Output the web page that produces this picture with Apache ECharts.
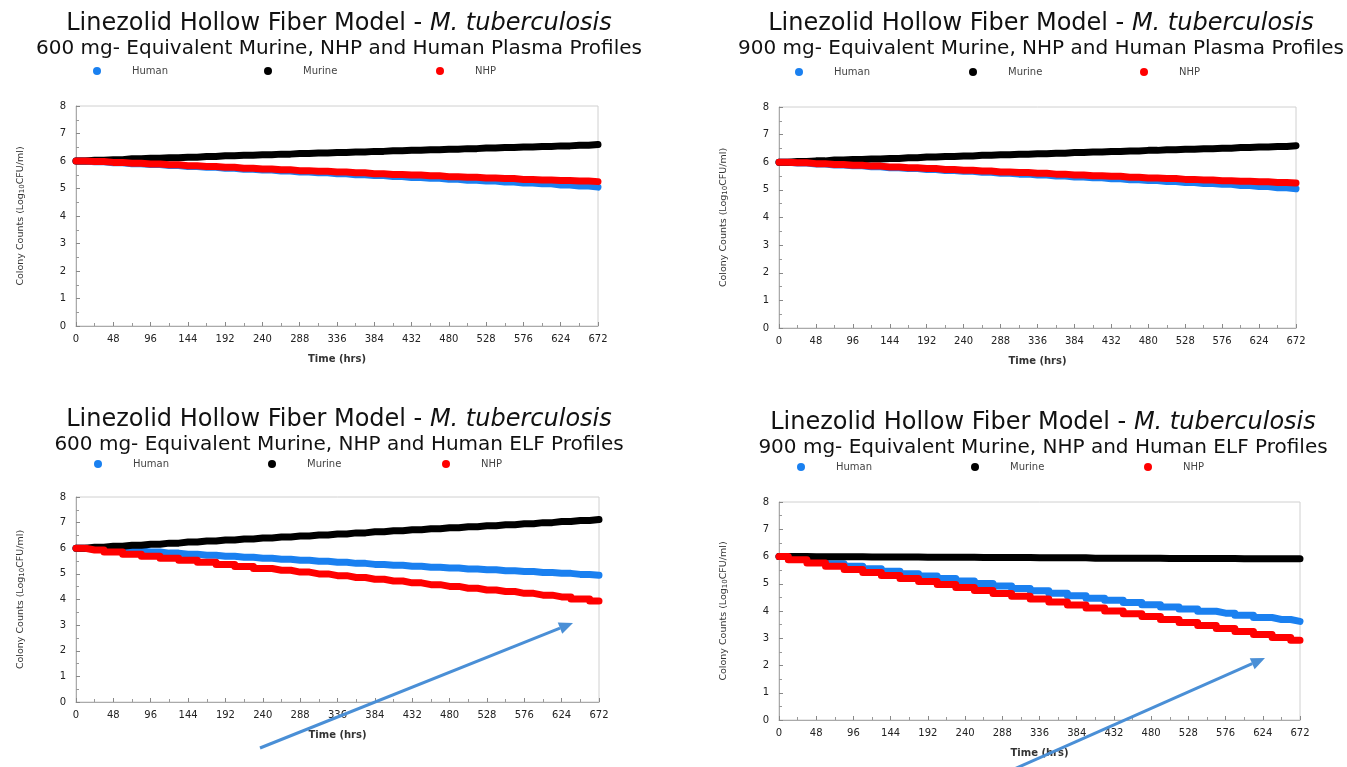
<!DOCTYPE html>
<html>
<head>
<meta charset="utf-8">
<script src="https://cdn.jsdelivr.net/npm/echarts@6/dist/echarts.min.js"></script>
<style>html,body{margin:0;padding:0;background:#fff;}#c{width:1347px;height:767px;}</style>
</head>
<body>
<div id="c"></div>
<script>
// Time axis (hours), one reading per day
const hours = [0,24,48,72,96,120,144,168,192,216,240,264,288,312,336,360,384,408,432,456,480,504,528,552,576,600,624,648,672];
const xTickLabels = [0,48,96,144,192,240,288,336,384,432,480,528,576,624,672];
const yTickLabels = [0,1,2,3,4,5,6,7,8];

const panelTitles = [
  '600 mg- Equivalent Murine, NHP and Human Plasma Profiles',
  '900 mg- Equivalent Murine, NHP and Human Plasma Profiles',
  '600 mg- Equivalent Murine, NHP and Human ELF Profiles',
  '900 mg- Equivalent Murine, NHP and Human ELF Profiles'
];
const seriesNames = ['Human','Murine','NHP'];

// Panel 1: 600 mg plasma
const plasma600Human  = [6.00,5.97,5.94,5.90,5.87,5.84,5.80,5.77,5.74,5.70,5.67,5.64,5.60,5.57,5.54,5.50,5.47,5.44,5.40,5.37,5.34,5.30,5.27,5.24,5.20,5.17,5.13,5.09,5.05];
const plasma600Murine = [6.00,6.03,6.05,6.08,6.10,6.12,6.14,6.16,6.19,6.21,6.23,6.25,6.27,6.29,6.31,6.33,6.35,6.37,6.39,6.41,6.43,6.45,6.47,6.49,6.51,6.53,6.55,6.57,6.60];
const plasma600NHP    = [6.00,5.98,5.95,5.92,5.89,5.86,5.83,5.80,5.77,5.74,5.71,5.68,5.65,5.63,5.60,5.57,5.54,5.51,5.49,5.46,5.43,5.41,5.38,5.36,5.33,5.31,5.29,5.27,5.25];
// Panel 2: 900 mg plasma
const plasma900Human  = [6.00,5.97,5.94,5.90,5.87,5.84,5.80,5.77,5.74,5.70,5.67,5.64,5.60,5.57,5.54,5.50,5.47,5.44,5.40,5.37,5.34,5.30,5.27,5.23,5.20,5.16,5.12,5.08,5.04];
const plasma900Murine = [6.00,6.03,6.05,6.08,6.10,6.12,6.14,6.16,6.19,6.21,6.23,6.25,6.27,6.29,6.31,6.33,6.35,6.37,6.39,6.41,6.43,6.45,6.47,6.49,6.51,6.53,6.55,6.57,6.60];
const plasma900NHP    = [6.00,5.98,5.95,5.92,5.89,5.86,5.83,5.80,5.77,5.74,5.71,5.68,5.65,5.63,5.60,5.57,5.54,5.51,5.49,5.46,5.43,5.41,5.38,5.36,5.33,5.31,5.29,5.27,5.25];
// Panel 3: 600 mg ELF
const elf600Human  = [6.00,5.97,5.93,5.89,5.85,5.81,5.77,5.73,5.69,5.65,5.61,5.57,5.53,5.49,5.45,5.41,5.37,5.34,5.30,5.26,5.23,5.19,5.16,5.12,5.09,5.05,5.02,4.98,4.95];
const elf600Murine = [6.00,6.04,6.08,6.12,6.16,6.20,6.24,6.28,6.32,6.36,6.40,6.44,6.48,6.52,6.56,6.60,6.64,6.68,6.72,6.76,6.80,6.84,6.88,6.92,6.96,7.00,7.04,7.08,7.12];
const elf600NHP    = [6.00,5.93,5.85,5.77,5.69,5.61,5.53,5.45,5.37,5.29,5.21,5.14,5.07,5.00,4.93,4.86,4.79,4.72,4.65,4.58,4.51,4.44,4.37,4.31,4.24,4.17,4.10,4.02,3.94];
// Panel 4: 900 mg ELF
const elf900Human  = [6.00,5.91,5.82,5.73,5.64,5.55,5.46,5.37,5.28,5.19,5.10,5.01,4.92,4.83,4.74,4.65,4.56,4.47,4.39,4.31,4.23,4.15,4.07,3.99,3.92,3.84,3.76,3.69,3.62];
const elf900Murine = [6.00,6.00,5.99,5.99,5.99,5.98,5.98,5.98,5.97,5.97,5.97,5.96,5.96,5.96,5.95,5.95,5.95,5.94,5.94,5.94,5.94,5.93,5.93,5.93,5.93,5.92,5.92,5.92,5.92];
const elf900NHP    = [6.00,5.88,5.76,5.64,5.52,5.41,5.30,5.19,5.08,4.97,4.86,4.75,4.64,4.54,4.44,4.33,4.22,4.11,4.00,3.90,3.80,3.69,3.58,3.47,3.36,3.25,3.14,3.03,2.93];

const panelData = [
  [plasma600Human, plasma600Murine, plasma600NHP],
  [plasma900Human, plasma900Murine, plasma900NHP],
  [elf600Human, elf600Murine, elf600NHP],
  [elf900Human, elf900Murine, elf900NHP]
];
const colors = ['#1a80f0','#000000','#ff0000'];

// layout (pixels)
const grids = [
  {left:76, top:106, width:522, height:220},
  {left:779, top:107, width:517, height:221},
  {left:76, top:497, width:523, height:205},
  {left:779, top:502, width:521, height:218}
];
const titleCenters = [[334,7],[1036,7],[334,403],[1038,406]];
// legend dot centres per panel (x of Human, Murine, NHP) and y
const legendDotX = [[97,268,440],[799,973,1144],[98,272,446],[801,975,1148]];
const legendDotY = [72,73,465,468];

const chart = echarts.init(document.getElementById('c'));
const FONT = 'DejaVu Sans';

const option = {
  backgroundColor:'#fff',
  animation:false,
  title:[], legend:[], grid:[], xAxis:[], yAxis:[], series:[], graphic:[]
};

for (let p=0; p<4; p++) {
  const g = grids[p];
  option.title.push({
    text:'Linezolid Hollow Fiber Model - {i|M. tuberculosis}',
    subtext: panelTitles[p],
    left: titleCenters[p][0], top: titleCenters[p][1], textAlign:'center',
    itemGap: 3,
    textStyle:{fontFamily:FONT, fontSize:24, fontWeight:'normal', color:'#111',
      rich:{i:{fontFamily:FONT, fontSize:24, fontStyle:'italic', color:'#111'}}},
    subtextStyle:{fontFamily:FONT, fontSize:20, color:'#111'}
  });
  for (let s=0; s<3; s++) {
    option.legend.push({
      left: legendDotX[p][s] - 4, top: legendDotY[p] - 6,
      data: [seriesNames[s]], icon:'circle', itemWidth:8, itemHeight:8,
      selectedMode:false, padding:0,
      textStyle:{fontFamily:FONT, fontSize:10, color:'#444', padding:[0,0,0,26]}
    });
  }
  option.grid.push({left:g.left, top:g.top, width:g.width, height:g.height, show:true, borderColor:'#d0d0d0', borderWidth:1, containLabel:false});
  option.xAxis.push({
    gridIndex:p, type:'value', min:0, max:672, interval:48,
    name:'Time (hrs)', nameLocation:'middle', nameGap:28,
    nameTextStyle:{fontFamily:FONT, fontSize:10, color:'#333', fontWeight:'bold'},
    axisLine:{lineStyle:{color:'#aaa'}},
    axisTick:{inside:true, length:4, lineStyle:{color:'#888'}},
    minorTick:{show:true, splitNumber:2, length:3, lineStyle:{color:'#999'}},
    splitLine:{show:false},
    axisLabel:{fontFamily:FONT, fontSize:10, color:'#222', margin:8,
      formatter: v => xTickLabels.includes(v) ? String(v) : ''}
  });
  option.yAxis.push({
    gridIndex:p, type:'value', min:0, max:8, interval:1,
    name:'{a|Colony Counts (Log}{s|10}{a|CFU/ml)}', nameLocation:'middle', nameGap:50,
    nameTextStyle:{rich:{a:{fontFamily:FONT, fontSize:9.5, color:'#333'}, s:{fontFamily:FONT, fontSize:7, color:'#333', verticalAlign:'bottom', padding:[4,0,0,0]}}},
    axisLine:{lineStyle:{color:'#aaa'}},
    axisTick:{inside:true, length:4, lineStyle:{color:'#888'}},
    minorTick:{show:true, splitNumber:2, length:3, lineStyle:{color:'#999'}},
    splitLine:{show:false},
    axisLabel:{fontFamily:FONT, fontSize:10, color:'#222', margin:10,
      formatter: v => yTickLabels.includes(v) ? String(v) : ''}
  });
  for (let s=0; s<3; s++) {
    option.series.push({
      name: seriesNames[s], type:'line', xAxisIndex:p, yAxisIndex:p,
      data: hours.map((h,i)=>[h, panelData[p][s][i]]),
      step:'middle', showSymbol:false, symbol:'circle', symbolSize:8,
      itemStyle:{color:colors[s]},
      lineStyle:{color:colors[s], width:7, cap:'round', join:'round'},
      z: s===1 ? 3 : (s===2 ? 4 : 2),
      emphasis:{disabled:true}
    });
  }
}

// blue annotation arrows (bottom panels)
function arrow(x1,y1,x2,y2){
  const ang = Math.atan2(y2-y1, x2-x1);
  const L = 14, W = 6;
  const bx = x2 - L*Math.cos(ang), by = y2 - L*Math.sin(ang);
  const px = -Math.sin(ang)*W, py = Math.cos(ang)*W;
  return [
    {type:'line', shape:{x1:x1,y1:y1,x2:bx,y2:by}, style:{stroke:'#4a8fd6', lineWidth:3}, z:100},
    {type:'polygon', shape:{points:[[x2,y2],[bx+px,by+py],[bx-px,by-py]]}, style:{fill:'#4a8fd6'}, z:100}
  ];
}
option.graphic = [...arrow(260,748,573,623), ...arrow(1012,770,1265,658)];

chart.setOption(option);
</script>
</body>
</html>
